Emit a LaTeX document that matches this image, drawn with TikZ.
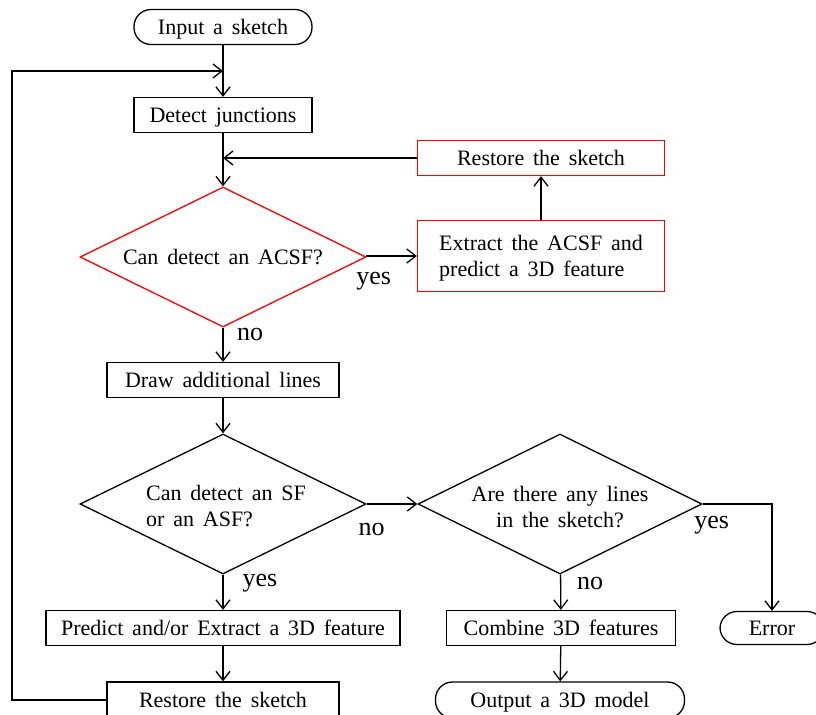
\documentclass[tikz,border=0pt]{standalone}
\usepackage{fontspec}
\setmainfont{Liberation Serif}
\usetikzlibrary{shapes.geometric,arrows.meta,calc,positioning}

\begin{document}
\begin{tikzpicture}[
    x = 0.5pt, y = -0.5pt,
    line width = 0.65pt,
    font = \fontsize{11}{13}\selectfont,
    execute at begin node = {\spaceskip=4.4pt\relax},
    blk/.style  = { draw, minimum height=17.5pt, inner sep=2pt, text depth=0pt },
    rblk/.style = { blk, draw=red },
    term/.style = { blk, rounded corners=8.5pt },
    dec/.style  = { draw, diamond, aspect=2, inner sep=0pt,
                    minimum width=143pt, minimum height=70pt, align=center },
    rdec/.style = { dec, draw=red },
    dtxt/.style = { inner sep=0pt },
    lbl/.style  = { font=\fontsize{13}{15}\selectfont, inner sep=0pt },
    connect line/.style = { -{Straight Barb[length=4.5pt,width=7pt]} }
]
\clip (0,0) rectangle (816,714);

% left column
\node[term, minimum width=89pt]  (in) at (223,27)  {Input a sketch};
\node[blk,  minimum width=89pt]  (dj) at (223,115) {Detect junctions};
\node[rdec]                      (d1) at (223,257) {Can detect an ACSF?};
\node[blk,  minimum width=116pt] (dl) at (223,380) {Draw additional lines};
\node[dec]                       (d2) at (223,504) {};
\node[dtxt, align=left]          (d2t) at (226,506) {Can detect an SF\\or an ASF?};
\node[blk,  minimum width=177pt] (pe) at (223,628) {Predict and/or Extract a 3D feature};
\node[blk,  minimum width=116pt, minimum height=18pt] (rb) at (223,700) {Restore the sketch};

% right part
\node[rblk, minimum width=123.5pt] (rr) at (541,158) {Restore the sketch};
\node[rblk, minimum width=123.5pt, minimum height=35.5pt, align=left]
      (ex) at (541,256) {Extract the ACSF and\\predict a 3D feature};
\node[dec, minimum width=142pt]   (d3)  at (560,504) {};
\node[dtxt, align=center]         (d3t) at (560,507) {Are there any lines\\in the sketch?};
\node[blk,  minimum width=114.5pt] (cb)  at (561,628) {Combine 3D features};
\node[term, minimum width=124.5pt, minimum height=18pt] (out) at (560,700) {Output a 3D model};
\node[term, minimum width=52pt,    minimum height=16.5pt] (err) at (772,628) {Error};

\coordinate (lft) at (12,0);
\path (in.south) -- coordinate[midway] (j1) (dj.north);

% connectors
\draw[connect line] (in) -- (dj);
\draw[connect line] (dj) -- (d1);
\draw[connect line] (rr.west) -- (rr.west -| dj.south);
\draw[connect line] (d1.east) -- (ex.west -| d1.east) -- (ex.west);
\draw[connect line] (ex) -- (rr);
\draw[connect line] (d1) -- (dl);
\draw[connect line] (dl) -- (d2);
\draw[connect line] (d2.east) -- (d3.west);
\draw[connect line] (d2) -- (pe);
\draw[connect line] (pe) -- (rb);
\draw[connect line] (rb.west) -- (rb.west -| lft) |- (j1);
\draw[connect line] (d3) -- (cb);
\draw[connect line] (cb) -- (out);
\draw[connect line] (d3.east) -| (err.north);

% branch labels
\node[lbl] (y1) at ([shift={(7,24)}]d1.east)  {yes};
\node[lbl] (n1) at ([shift={(27,7)}]d1.south) {no};
\node[lbl] (n2) at ([shift={(5,25)}]d2.east)  {no};
\node[lbl] (y2) at ([shift={(37,9)}]d2.south) {yes};
\node[lbl] (y3) at ([shift={(9,21)}]d3.east)  {yes};
\node[lbl] (n3) at ([shift={(30,9)}]d3.south) {no};

\end{tikzpicture}
\end{document}
